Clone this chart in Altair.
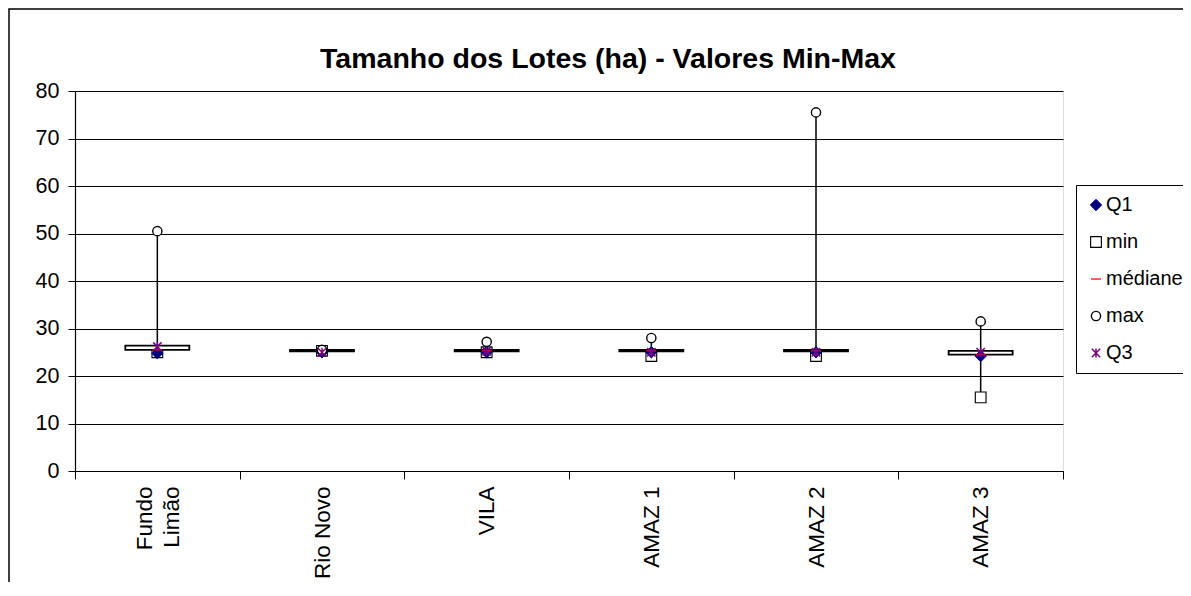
import altair as alt
import pandas as pd

categorias = ["Fundo Limão", "Rio Novo", "VILA", "AMAZ 1", "AMAZ 2", "AMAZ 3"]
q1 = [24.8, 25.0, 25.0, 25.0, 25.0, 24.2]
minimo = [25.0, 25.3, 25.0, 24.2, 24.2, 15.5]
mediana = [25.5, 25.3, 25.3, 25.3, 25.3, 24.5]
maximo = [50.5, 25.5, 27.2, 28.0, 75.5, 31.5]
q3 = [26.2, 25.0, 25.2, 25.0, 25.0, 25.0]
caixa_inf = [25.5, 25.2, 25.2, 25.2, 25.2, 24.5]
caixa_sup = [26.4, 25.5, 25.5, 25.5, 25.5, 25.3]

series_nomes = ["Q1", "min", "médiane", "max", "Q3"]
series_vals = [q1, minimo, mediana, maximo, q3]
titulo = "Tamanho dos Lotes (ha) - Valores Min-Max"

FONT = "Liberation Sans"

wide = pd.DataFrame({
    "cat": categorias, "min": minimo, "max": maximo,
    "lo": caixa_inf, "hi": caixa_sup,
})
rows = []
for nome, vals in zip(series_nomes, series_vals):
    for c, v in zip(categorias, vals):
        rows.append({"cat": c, "serie": nome, "v": v})
long = pd.DataFrame(rows)
long["ordem"] = long["serie"].map({n: i for i, n in enumerate(series_nomes)})

x_enc = alt.X("cat:N", sort=categorias, title=None,
              scale=alt.Scale(paddingInner=0, paddingOuter=0),
              axis=alt.Axis(labelAngle=270, labelAlign="right", labelBaseline="middle",
                            labelFont=FONT, labelFontSize=22.5, labelColor="black",
                            labelPadding=7, tickBand="extent", tickColor="black",
                            tickSize=8, domainColor="black", domainWidth=1.2,
                            labelExpr="datum.label == 'Fundo Limão' ? ['Fundo', 'Limão'] : datum.label",
                            labelOffset={"condition": {"test": "datum.value === 'Fundo Limão'",
                                                       "value": -13}, "value": 0},
                            labelLineHeight=27, grid=False))
y_scale = alt.Scale(domain=[0, 80], nice=False)
y_axis = alt.Axis(values=list(range(0, 81, 10)), labelFont=FONT, labelFontSize=21.5,
                  labelColor="black", tickColor="black", tickSize=7, labelPadding=9,
                  domainColor="black", domainWidth=1.2, grid=True, gridColor="black",
                  gridWidth=1.2)

frame = alt.Chart(alt.Data(values=[{}])).mark_rect(
    filled=False, stroke="black", strokeWidth=1.5
).encode(x=alt.value(-66), x2=alt.value(1400), y=alt.value(-82), y2=alt.value(900))

title_mark = alt.Chart(alt.Data(values=[{"t": titulo}])).mark_text(
    font=FONT, fontSize=28.5, fontWeight="bold", color="black",
    align="center", baseline="middle"
).encode(x=alt.value(533), y=alt.value(-32), text="t:N")

regras = alt.Chart(wide).mark_rule(color="black", strokeWidth=1.5).encode(
    x=x_enc,
    y=alt.Y("min:Q", scale=y_scale, axis=y_axis, title=None),
    y2="max:Q",
)

caixas = alt.Chart(wide).mark_bar(size=64, fill="white", stroke="black", strokeWidth=1.8).encode(
    x=alt.X("cat:N", sort=categorias),
    y=alt.Y("lo:Q", scale=y_scale),
    y2="hi:Q",
)

asterisco = "M-1,-1L1,1M-1,1L1,-1M0,-1.1L0,1.1"
traco = "M-1,0L1,0"
leg = alt.Legend(title=None, orient="none", legendX=1001, legendY=94,
                 strokeColor="black", fillColor="white", padding=10,
                 labelFont=FONT, labelFontSize=20, labelColor="black",
                 rowPadding=17, symbolOffset=0, labelOffset=0)

enc = dict(
    x=alt.X("cat:N", sort=categorias),
    y=alt.Y("v:Q", scale=y_scale),
    shape=alt.Shape("serie:N", scale=alt.Scale(domain=series_nomes,
                    range=["diamond", "square", traco, "circle", asterisco]), legend=leg),
    fill=alt.Fill("serie:N", scale=alt.Scale(domain=series_nomes,
                  range=["#000080", "white", "#ff0000", "white", "#800080"]), legend=leg),
    stroke=alt.Stroke("serie:N", scale=alt.Scale(domain=series_nomes,
                      range=["#000080", "black", "#ff0000", "black", "#800080"]), legend=leg),
    size=alt.Size("serie:N", scale=alt.Scale(domain=series_nomes,
                  range=[130, 70, 64, 80, 25]), legend=leg),
    strokeWidth=alt.StrokeWidth("serie:N", scale=alt.Scale(domain=series_nomes,
                                range=[1, 1.5, 3.5, 1.5, 1.8]), legend=leg),
    order=alt.Order("ordem:Q"),
)

pontos_min = alt.Chart(long).mark_point(opacity=1).encode(**enc).transform_filter(
    alt.datum.serie == "min")
pontos = alt.Chart(long).mark_point(opacity=1).encode(**enc).transform_filter(
    alt.datum.serie != "min")

chart = alt.layer(frame, title_mark, regras, pontos_min, caixas, pontos).properties(
    width=988, height=380,
    autosize=alt.AutoSizeParams(type="none"),
    padding={"left": 67, "top": 83, "right": 120, "bottom": 111},
).configure_view(stroke="#808080", strokeWidth=1.5).configure(background="white")

chart.save("out.html", embed_options={"renderer": "svg", "actions": False})
